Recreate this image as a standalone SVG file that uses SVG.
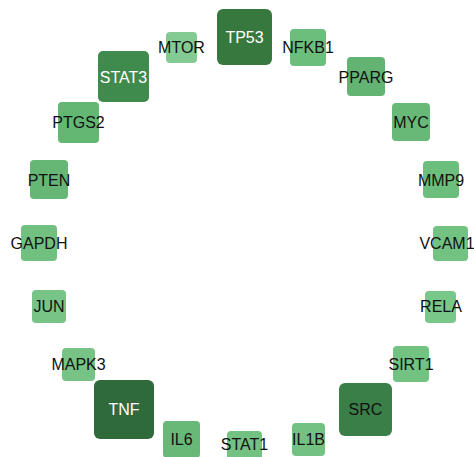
<svg xmlns="http://www.w3.org/2000/svg" width="474" height="457" viewBox="0 0 474 457">
<style>
text{font-family:"Liberation Sans",Arial,sans-serif;font-size:16px;text-anchor:middle;fill:#111}
text.w{fill:#fff}
</style>
<rect width="474" height="457" fill="#fff"/>
<g id="connectors"/>
<g id="TP53"><rect x="217" y="9" width="55" height="56" rx="6" fill="#37783f"/><text class="w" x="244.5" y="43">TP53</text></g>
<g id="MTOR"><rect x="166" y="32" width="31" height="31" rx="4" fill="#84ca93"/><text x="181.5" y="53">MTOR</text></g>
<g id="STAT3"><rect x="98" y="51" width="51" height="51" rx="5" fill="#3f8a4d"/><text class="w" x="123.5" y="82.5">STAT3</text></g>
<g id="NFKB1"><rect x="290" y="29" width="36" height="37" rx="4" fill="#6cbe7c"/><text x="308" y="53">NFKB1</text></g>
<g id="PPARG"><rect x="347" y="57" width="38" height="39" rx="4" fill="#63b373"/><text x="366" y="82.5">PPARG</text></g>
<g id="PTGS2"><rect x="58" y="102" width="41" height="41" rx="4" fill="#64b673"/><text x="78.5" y="128">PTGS2</text></g>
<g id="MYC"><rect x="392" y="103" width="38" height="38" rx="4" fill="#68b978"/><text x="411" y="128">MYC</text></g>
<g id="PTEN"><rect x="30" y="160" width="38" height="39" rx="4" fill="#66b676"/><text x="49" y="185.5">PTEN</text></g>
<g id="MMP9"><rect x="423" y="161" width="36" height="37" rx="4" fill="#6cbe7c"/><text x="441" y="185.5">MMP9</text></g>
<g id="GAPDH"><rect x="21" y="225" width="36" height="36" rx="4" fill="#71c080"/><text x="39" y="249">GAPDH</text></g>
<g id="VCAM1"><rect x="433" y="226" width="35" height="35" rx="4" fill="#72c281"/><text x="447" y="249">VCAM1</text></g>
<g id="JUN"><rect x="32" y="290" width="34" height="33" rx="4" fill="#78c487"/><text x="49" y="312">JUN</text></g>
<g id="RELA"><rect x="425" y="291" width="31" height="32" rx="4" fill="#7ac889"/><text x="441" y="312">RELA</text></g>
<g id="MAPK3"><rect x="62" y="348" width="33" height="33" rx="4" fill="#77c386"/><text x="78.5" y="370">MAPK3</text></g>
<g id="SIRT1"><rect x="393" y="346" width="36" height="36" rx="4" fill="#72c281"/><text x="411" y="370">SIRT1</text></g>
<g id="TNF"><rect x="94" y="380" width="60" height="59" rx="6" fill="#2f6a3b"/><text class="w" x="124" y="415">TNF</text></g>
<g id="SRC"><rect x="339" y="383" width="53" height="53" rx="6" fill="#3a7f47"/><text x="365.5" y="415">SRC</text></g>
<g id="IL6"><rect x="163" y="421" width="37" height="37" rx="4" fill="#68b877"/><text x="181.5" y="444.5">IL6</text></g>
<g id="STAT1"><rect x="227" y="431" width="35" height="35" rx="4" fill="#73c282"/><text x="244.5" y="450">STAT1</text></g>
<g id="IL1B"><rect x="292" y="423" width="33" height="33" rx="4" fill="#74c283"/><text x="308.5" y="445">IL1B</text></g>
</svg>
